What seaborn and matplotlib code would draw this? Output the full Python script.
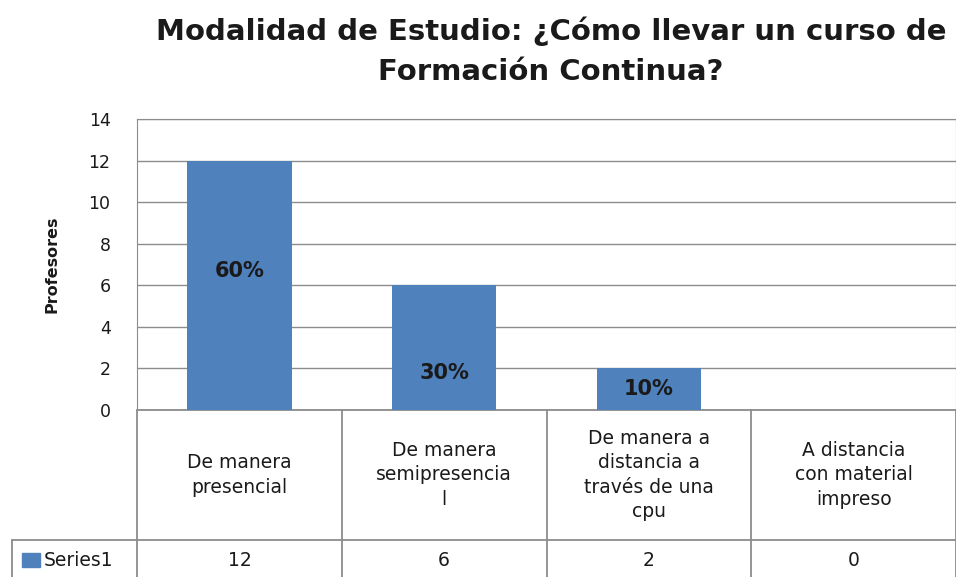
import matplotlib
matplotlib.use("Agg")
import matplotlib.pyplot as plt
import matplotlib.transforms as mtransforms
import pandas as pd
import seaborn as sns

categorias = ["De manera\npresencial", "De manera\nsemipresencia\nl",
              "De manera a\ndistancia a\ntravés de una\ncpu", "A distancia\ncon material\nimpreso"]
valores = [12, 6, 2, 0]
porcentajes = ["60%", "30%", "10%", ""]
# altura (en unidades del eje) donde están las etiquetas de porcentaje
altura_etiquetas = [6.7, 1.8, 1.0, 0]
serie = "Series1"
titulo = "Modalidad de Estudio: ¿Cómo llevar un curso de\nFormación Continua?"

sns.set_style("white")
plt.rcParams["font.family"] = ["DejaVu Sans"]

df = pd.DataFrame({"cat": categorias, "val": valores})
azul = "#4F81BD"
gris = "#8C8C8C"
negro = "#1a1a1a"

fig = plt.figure(figsize=(9.56, 5.77), dpi=100)
ax = fig.add_axes([137/956, 1-410/577, 1-137/956, (410-119)/577])

sns.barplot(data=df, x="cat", y="val", color=azul, width=0.51, saturation=1,
            linewidth=0, ax=ax, zorder=3)
ax.set_xlim(-0.5, 3.5)
ax.set_ylim(0, 14)
ax.set_yticks(range(0, 15, 2))
ax.yaxis.grid(True, color=gris, linewidth=1, zorder=0)
ax.set_xticks([])
ax.set_xlabel("")
ax.set_ylabel("Profesores", fontsize=11.5, fontweight="bold", color=negro)
ax.yaxis.set_label_coords((60 - 137) / 819, 0.5)
ax.tick_params(axis="y", labelsize=12.5, length=0, pad=19, labelcolor=negro)
for s in ax.spines.values():
    s.set_color(gris)
ax.spines["bottom"].set_visible(False)

for i, (h, p) in enumerate(zip(altura_etiquetas, porcentajes)):
    if p:
        ax.text(i, h, p, ha="center", va="center", fontsize=15, fontweight="bold", color=negro, zorder=4)

fig.text(551/956, 1 - 51/577, titulo, ha="center", va="center", fontsize=21, fontweight="bold",
         linespacing=1.55, color=negro)

# tabla de datos debajo del eje
trans = mtransforms.blended_transform_factory(ax.transData, fig.transFigure)
y0 = 1 - 410/577
y1 = 1 - 540/577
for b in [-0.5, 0.5, 1.5, 2.5, 3.5]:
    ax.plot([b, b], [0, y0], transform=trans, color=gris, lw=1.3, clip_on=False)
ax.plot([-0.5, 3.5], [y0, y0], transform=trans, color=gris, lw=1.3, clip_on=False)
fig.add_artist(plt.Line2D([12/956, 1], [y1, y1], color=gris, lw=1.3))
fig.add_artist(plt.Line2D([12/956, 12/956], [0, y1], color=gris, lw=1.3))

for i, (c, v) in enumerate(zip(categorias, valores)):
    ax.text(i, (y0 + y1) / 2, c, transform=trans, ha="center", va="center", fontsize=13.5,
            linespacing=1.35, color=negro)
    ax.text(i, 1 - 560/577, str(v), transform=trans, ha="center", va="center", fontsize=13.5, color=negro)

fig.add_artist(plt.Rectangle((22/956, 1 - 567/577), 18/956, 14/577, color=azul))
fig.text(44/956, 1 - 560/577, serie, ha="left", va="center", fontsize=13.5, color=negro)

fig.savefig("out.png", dpi=100)
